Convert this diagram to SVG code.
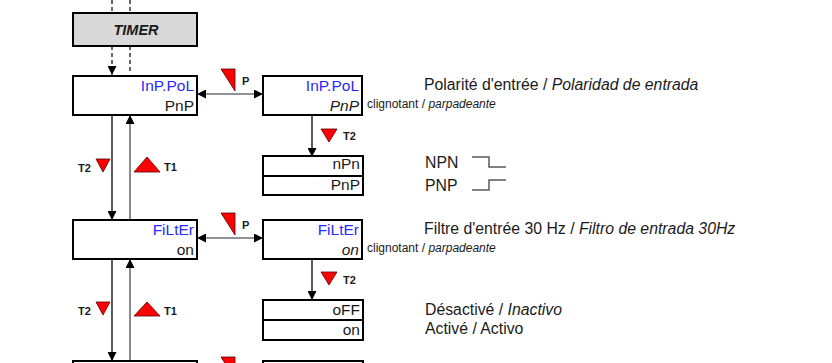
<svg xmlns="http://www.w3.org/2000/svg" width="832" height="363" viewBox="0 0 832 363">
  <style>
    text{font-family:"Liberation Sans",Arial,sans-serif;fill:#1a1a1a}
    .box{fill:#fff;stroke:#000;stroke-width:2}
    .timer{fill:#d9d9d9;stroke:#000;stroke-width:2}
    .val{font-size:15.5px;text-anchor:end}
    .par{fill:#2a2aff}
    .it{font-style:italic}
    .lbl{font-size:11px;font-weight:bold}
    .desc{font-size:15.8px}
    .note{font-size:12px}
    .tri{fill:#ff0000;stroke:#500;stroke-width:0.8;stroke-linejoin:miter}
    .dn{stroke:#000;stroke-width:1.3;fill:none}
    .up{stroke:#6e6e6e;stroke-width:1.6;fill:none}
    .dash{stroke:#000;stroke-width:1.2;stroke-dasharray:4 3;fill:none}
    .wave{stroke:#5a5a5a;stroke-width:1.5;fill:none}
  </style>
  <defs>
    <marker id="ah" viewBox="0 0 10 10" refX="10" refY="5" markerWidth="9" markerHeight="9" markerUnits="userSpaceOnUse" orient="auto-start-reverse">
      <path d="M0,0 L10,5 L0,10 z" fill="#000"/>
    </marker>
  </defs>

  <!-- connectors -->
  <g id="connectors">
    <line class="dash" x1="112" y1="0" x2="112" y2="13"/>
    <line class="dash" x1="130" y1="0" x2="130" y2="13"/>
    <line class="dash" x1="112" y1="46" x2="112" y2="75" marker-end="url(#ah)"/>
    <line class="dash" x1="130" y1="46" x2="130" y2="74"/>

    <!-- row 1 -->
    <line class="up" x1="197" y1="94" x2="263" y2="94" marker-start="url(#ah)" marker-end="url(#ah)"/>
    <line class="dn" x1="312" y1="115" x2="312" y2="157" marker-end="url(#ah)"/>
    <line class="dn" x1="112" y1="115" x2="112" y2="220" marker-end="url(#ah)"/>
    <line class="up" x1="130" y1="220" x2="130" y2="115" marker-end="url(#ah)"/>

    <!-- row 2 -->
    <line class="up" x1="197" y1="238" x2="263" y2="238" marker-start="url(#ah)" marker-end="url(#ah)"/>
    <line class="dn" x1="312" y1="259" x2="312" y2="300" marker-end="url(#ah)"/>
    <line class="dn" x1="112" y1="259" x2="112" y2="361" marker-end="url(#ah)"/>
    <line class="up" x1="130" y1="361" x2="130" y2="259" marker-end="url(#ah)"/>

    <!-- key triangles and labels -->
    <polygon class="tri" points="221,69 235,69 235,91"/>
    <text class="lbl" x="242" y="85">P</text>
    <polygon class="tri" points="321,129 337,129 329,142"/>
    <text class="lbl" x="343" y="140">T2</text>
    <polygon class="tri" points="96,159 110,159 103,172"/>
    <text class="lbl" x="78" y="172">T2</text>
    <polygon class="tri" points="134,172 160,172 147,157"/>
    <text class="lbl" x="164" y="171">T1</text>

    <polygon class="tri" points="221,213 235,213 235,235"/>
    <text class="lbl" x="242" y="229">P</text>
    <polygon class="tri" points="321,272 337,272 329,285"/>
    <text class="lbl" x="343" y="284">T2</text>
    <polygon class="tri" points="96,302 110,302 103,315"/>
    <text class="lbl" x="78" y="315">T2</text>
    <polygon class="tri" points="134,316 160,316 147,302"/>
    <text class="lbl" x="164" y="315">T1</text>

    <polygon class="tri" points="221,357 235,357 235,379"/>
  </g>

  <g id="timer">
    <rect class="timer" x="73" y="13" width="124" height="33"/>
    <text x="136" y="35" text-anchor="middle" style="font-size:14.5px;font-weight:bold;font-style:italic">TIMER</text>
  </g>

  <g id="inpol">
    <rect class="box" x="73" y="76" width="124" height="39"/>
    <text class="val par" x="194" y="91">InP.PoL</text>
    <text class="val" x="194" y="111">PnP</text>
  </g>

  <g id="inpol-edit">
    <rect class="box" x="263" y="76" width="99" height="39"/>
    <text class="val par" x="359" y="91">InP.PoL</text>
    <text class="val it" x="359" y="111">PnP</text>
    <text class="note" x="367" y="108">clignotant / <tspan class="it">parpadeante</tspan></text>
    <text class="desc" x="424" y="90">Polarité d'entrée / <tspan class="it">Polaridad de entrada</tspan></text>
  </g>

  <g id="inpol-choices">
    <rect class="box" x="263" y="156" width="100" height="20"/>
    <rect class="box" x="263" y="176" width="100" height="19"/>
    <text class="val" x="360" y="169">nPn</text>
    <text class="val" x="360" y="190">PnP</text>
    <text class="desc" x="425" y="168">NPN</text>
    <text class="desc" x="425" y="191">PNP</text>
    <path class="wave" d="M472,157 H489 V167 H506"/>
    <path class="wave" d="M472,190 H489 V180 H506"/>
  </g>

  <g id="filter">
    <rect class="box" x="73" y="220" width="124" height="39"/>
    <text class="val par" x="194" y="235">FiLtEr</text>
    <text class="val" x="194" y="255">on</text>
  </g>

  <g id="filter-edit">
    <rect class="box" x="263" y="220" width="99" height="39"/>
    <text class="val par" x="359" y="235">FiLtEr</text>
    <text class="val it" x="359" y="255">on</text>
    <text class="note" x="367" y="252">clignotant / <tspan class="it">parpadeante</tspan></text>
    <text class="desc" x="424" y="234">Filtre d'entrée 30 Hz / <tspan class="it">Filtro de entrada 30Hz</tspan></text>
  </g>

  <g id="filter-choices">
    <rect class="box" x="263" y="300" width="100" height="20"/>
    <rect class="box" x="263" y="320" width="100" height="20"/>
    <text class="val" x="360" y="315">oFF</text>
    <text class="val" x="360" y="335">on</text>
    <text class="desc" x="425" y="315">Désactivé / <tspan class="it">Inactivo</tspan></text>
    <text class="desc" x="425" y="334">Activé / Activo</text>
  </g>

  <g id="next">
    <rect class="box" x="73" y="361" width="124" height="39"/>
  </g>
  <g id="next-edit">
    <rect class="box" x="263" y="361" width="100" height="39"/>
  </g>
</svg>
